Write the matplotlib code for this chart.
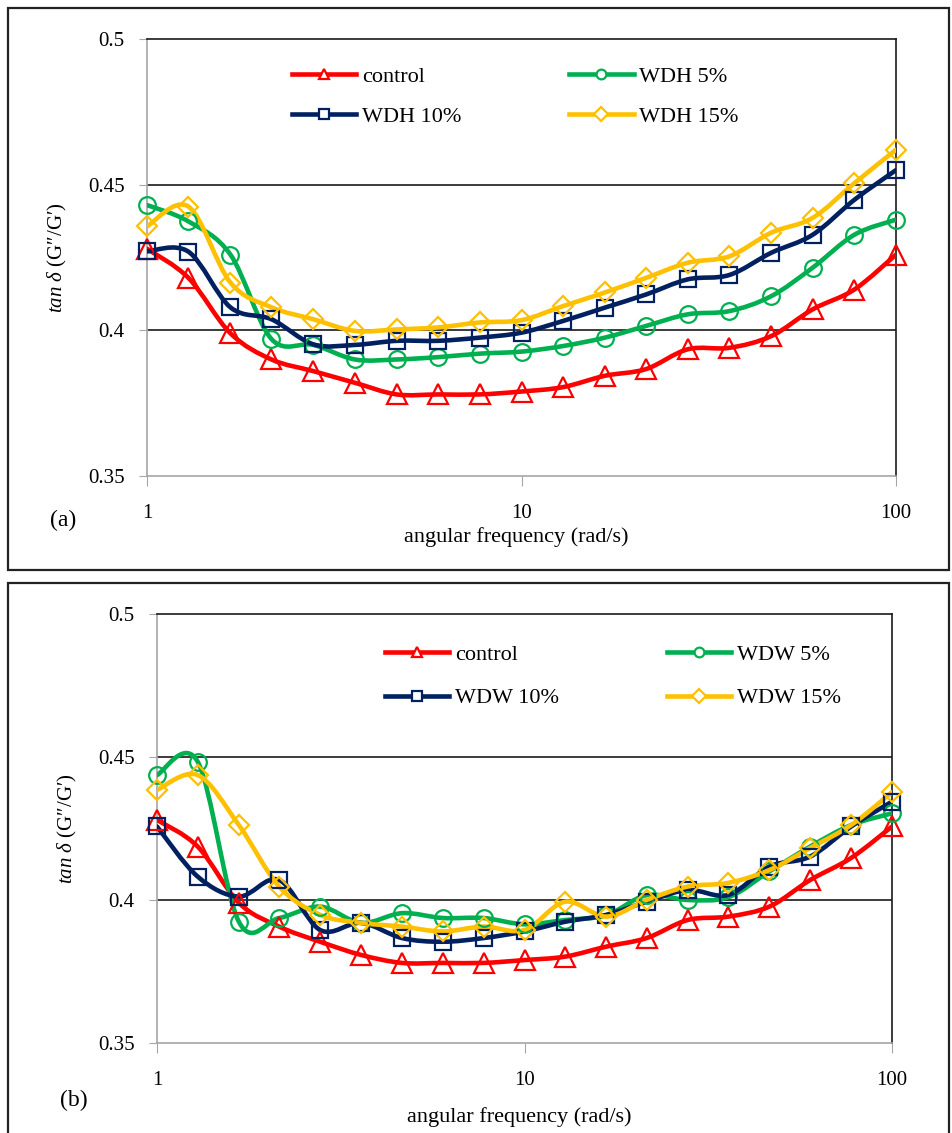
import numpy as np
import matplotlib
matplotlib.use("Agg")
import matplotlib.pyplot as plt
from matplotlib.path import Path
from matplotlib.patches import PathPatch, Rectangle
from matplotlib.lines import Line2D

plt.rcParams['font.family'] = ['Liberation Serif', 'DejaVu Serif']
plt.rcParams['mathtext.fontset'] = 'custom'
plt.rcParams['mathtext.it'] = 'Liberation Serif:italic'
plt.rcParams['mathtext.rm'] = 'Liberation Serif'

# ---------------- data ----------------
freq = [1, 1.29, 1.67, 2.15, 2.78, 3.59, 4.64, 5.99, 7.74, 10,
        12.9, 16.7, 21.5, 27.8, 35.9, 46.4, 59.9, 77.4, 100]

# panel (a)
a_control = [0.428, 0.418, 0.399, 0.390, 0.386, 0.382, 0.378, 0.378, 0.378, 0.379,
             0.3805, 0.3844, 0.3867, 0.3935, 0.394, 0.398, 0.4072, 0.414, 0.426]
a_wdh5 = [0.443, 0.4374, 0.426, 0.397, 0.395, 0.390, 0.390, 0.3908, 0.392, 0.3927,
          0.3946, 0.3975, 0.4015, 0.4055, 0.4066, 0.4117, 0.4215, 0.4328, 0.438]
a_wdh10 = [0.4271, 0.427, 0.4079, 0.4038, 0.3952, 0.395, 0.3964, 0.3964, 0.3975, 0.3992,
           0.4032, 0.4078, 0.4123, 0.4175, 0.419, 0.4266, 0.4328, 0.4448, 0.455]
a_wdh15 = [0.4357, 0.4425, 0.4164, 0.4079, 0.4038, 0.3998, 0.4003, 0.401, 0.4027, 0.4035,
           0.4083, 0.413, 0.418, 0.4232, 0.4254, 0.4335, 0.4386, 0.4505, 0.462]

# panel (b)
b_control = [0.428, 0.4187, 0.399, 0.3907, 0.3854, 0.3808, 0.378, 0.378, 0.378, 0.379,
             0.3802, 0.3837, 0.3867, 0.393, 0.3942, 0.3977, 0.407, 0.4147, 0.4257]
b_wdw5 = [0.4437, 0.4484, 0.3924, 0.3937, 0.3977, 0.392, 0.3954, 0.3937, 0.3937, 0.3915,
          0.393, 0.3947, 0.4017, 0.4, 0.401, 0.41, 0.4187, 0.4262, 0.4303]
b_wdw10 = [0.4257, 0.4082, 0.4012, 0.407, 0.3895, 0.392, 0.3867, 0.3854, 0.3867, 0.389,
           0.3924, 0.3948, 0.3994, 0.4035, 0.4018, 0.4117, 0.4152, 0.4257, 0.4344]
b_wdw15 = [0.4385, 0.4437, 0.4262, 0.4047, 0.3948, 0.392, 0.3907, 0.389, 0.3907, 0.3895,
           0.3994, 0.3942, 0.400, 0.4047, 0.406, 0.4105, 0.4182, 0.4262, 0.4377]

a_labels = ['control', 'WDH 5%', 'WDH 10%', 'WDH 15%']
b_labels = ['control', 'WDW 5%', 'WDW 10%', 'WDW 15%']
y_ticks = [0.35, 0.4, 0.45, 0.5]
y_ticklabels = ['0.35', '0.4', '0.45', '0.5']
x_ticks = [1, 10, 100]
x_ticklabels = ['1', '10', '100']

colors = ['#FF0000', '#00B050', '#002060', '#FFC000']
markers = ['^', 'o', 's', 'D']
msizes = [14, 12, 12, 10.5]

W, H = 952, 1133
fig = plt.figure(figsize=(W / 100, H / 100), dpi=100)


def fx(px):
    return px / W


def fy(py):
    return 1 - py / H


def smooth_path(x, y):
    lx = np.log10(np.asarray(x, float))
    yy = np.asarray(y, float)
    n = len(lx)
    verts = [(x[0], y[0])]
    codes = [Path.MOVETO]
    for i in range(n - 1):
        i0 = max(i - 1, 0)
        i3 = min(i + 2, n - 1)
        c1x = lx[i] + (lx[i + 1] - lx[i0]) / 6
        c1y = yy[i] + (yy[i + 1] - yy[i0]) / 6
        c2x = lx[i + 1] - (lx[i3] - lx[i]) / 6
        c2y = yy[i + 1] - (yy[i3] - yy[i]) / 6
        verts += [(10 ** c1x, c1y), (10 ** c2x, c2y), (x[i + 1], y[i + 1])]
        codes += [Path.CURVE4] * 3
    return Path(verts, codes)


def panel(left, right, top_px, bot_px, series, labels, leg_x, leg_y, leg_space,
          leg_lsp, tag, tag_xy, xl_y, box):
    bx0, by0, bx1, by1 = box
    fig.patches.append(Rectangle((fx(bx0), fy(by1)), fx(bx1 - bx0), (by1 - by0) / H,
                                 transform=fig.transFigure, fill=False,
                                 edgecolor='#222222', linewidth=1.6))
    ax = fig.add_axes([fx(left), fy(bot_px), fx(right - left), (bot_px - top_px) / H])
    ax.set_xscale('log')
    ax.set_xlim(1, 100)
    ax.set_ylim(0.35, 0.5)
    for yv in [0.4, 0.45]:
        ax.axhline(yv, color='#1a1a1a', lw=1.2, zorder=1)
    for s in ['left', 'bottom']:
        ax.spines[s].set_color('#a6a6a6')
        ax.spines[s].set_linewidth(1.2)
    for s in ['top', 'right']:
        ax.spines[s].set_color('#1a1a1a')
        ax.spines[s].set_linewidth(1.2)
    ax.set_yticks(y_ticks)
    ax.set_yticklabels(y_ticklabels)
    ax.set_xticks(x_ticks)
    ax.set_xticklabels(x_ticklabels)
    ax.xaxis.set_minor_locator(matplotlib.ticker.NullLocator())
    ax.tick_params(axis='y', direction='out', length=6, color='#a6a6a6',
                   labelsize=15, pad=10)
    ax.tick_params(axis='x', direction='out', length=7, color='#a6a6a6',
                   labelsize=15, pad=13)
    handles = []
    for yv, c, m, ms, lab in zip(series, colors, markers, msizes, labels):
        ax.add_patch(PathPatch(smooth_path(freq, yv), facecolor='none',
                               edgecolor=c, linewidth=3.3, zorder=3,
                               capstyle='round', joinstyle='round'))
        ax.plot(freq, yv, linestyle='none', marker=m, markersize=ms,
                markerfacecolor='none', markeredgecolor=c, markeredgewidth=1.6,
                zorder=4, clip_on=False)
        handles.append(Line2D([], [], color=c, lw=3.3, marker=m, markersize=7,
                              markerfacecolor='white', markeredgecolor=c,
                              markeredgewidth=1.6))
    # legend fills column-wise: order so rows read (control, 5%), (10%, 15%)
    order = [0, 2, 1, 3]
    fig.legend([handles[i] for i in order], [labels[i] for i in order], ncol=2,
               loc='upper left', bbox_to_anchor=(fx(leg_x), fy(leg_y)),
               frameon=False, fontsize=16, handlelength=2.9, handletextpad=0.25,
               columnspacing=leg_space, labelspacing=leg_lsp, borderpad=0,
               borderaxespad=0)
    ax.set_ylabel(r'$\mathit{tan\ δ}$ (G″/G′)', fontsize=15, labelpad=14)
    fig.text(fx((left + right) / 2) - 0.005, fy(xl_y), 'angular frequency (rad/s)',
             ha='center', va='center', fontsize=16)
    fig.text(fx(tag_xy[0]), fy(tag_xy[1]), tag, ha='left', va='center', fontsize=17)
    return ax


panel(147, 896, 39, 476, [a_control, a_wdh5, a_wdh10, a_wdh15], a_labels,
      292, 66, 4.85, 0.9, '(a)', (50, 520), 537, (8, 8, 949, 570))
panel(157, 892, 614, 1043, [b_control, b_wdw5, b_wdw10, b_wdw15], b_labels,
      385, 644, 4.85, 1.05, '(b)', (60, 1100), 1117, (8, 583, 949, 1140))

fig.savefig('out.png', dpi=100)
